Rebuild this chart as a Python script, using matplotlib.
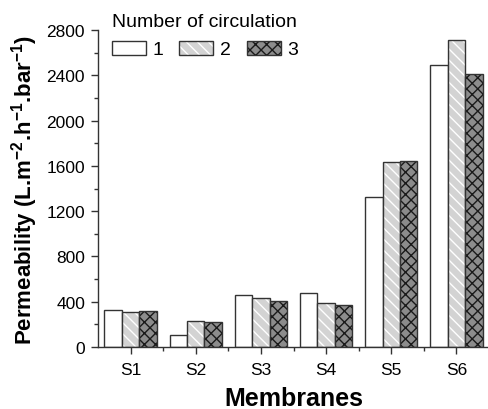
import numpy as np
import matplotlib
matplotlib.use('Agg')
import matplotlib.pyplot as plt
from matplotlib.patches import Patch
from matplotlib.legend_handler import HandlerTuple

plt.rcParams['font.family'] = ['Liberation Sans', 'DejaVu Sans']
plt.rcParams['mathtext.fontset'] = 'custom'
plt.rcParams['mathtext.bf'] = 'Liberation Sans:bold'
plt.rcParams['mathtext.rm'] = 'Liberation Sans'
plt.rcParams['hatch.linewidth'] = 1.0

membranes = ['S1', 'S2', 'S3', 'S4', 'S5', 'S6']
circ_labels = ['1', '2', '3']
circ1 = [327, 103, 459, 480, 1328, 2488]
circ2 = [306, 230, 433, 391, 1632, 2712]
circ3 = [315, 218, 406, 371, 1640, 2409]

series = [circ1, circ2, circ3]
faces = ['white', '#d3d3d3', '#8c8c8c']
hatches = [None, '\\\\\\', 'xxx']
hatch_cols = ['white', 'white', '#1a1a1a']
edge = '#333333'

fig = plt.figure(figsize=(4.89, 4.10), dpi=100)
ax = fig.add_axes([98/489, 1 - 348/410, 1 - 98/489, (348 - 31)/410])

x = np.arange(1, len(membranes) + 1)
w = 0.268
handles = []
for i, vals in enumerate(series):
    pos = x + (i - 1) * w
    # hatch layer first, outline on top
    ax.bar(pos, vals, w, color=faces[i], edgecolor=hatch_cols[i],
           hatch=hatches[i], linewidth=0)
    ax.bar(pos, vals, w, fill=False, edgecolor=edge, linewidth=1.0)
    h1 = Patch(facecolor=faces[i], edgecolor=hatch_cols[i], hatch=hatches[i], linewidth=0)
    h2 = Patch(fill=False, edgecolor=edge, linewidth=1.0)
    handles.append((h1, h2))

ax.set_xlim(0.5, 6.5)
ax.set_ylim(0, 2800)
ax.set_xticks(x)
ax.set_xticklabels(membranes)
ax.set_xticks(np.arange(1.5, 6.6, 1), minor=True)
ax.set_yticks(np.arange(0, 2801, 400))
ax.set_yticks(np.arange(0, 2801, 200), minor=True)
ax.tick_params(which='both', direction='out', labelsize=12.5, color='#333333')
ax.tick_params(axis='x', which='major', pad=5.5)
ax.tick_params(axis='y', which='major', pad=4.3)
ax.tick_params(which='major', length=5, width=1)
ax.tick_params(which='minor', length=3, width=1)
for s in ['top', 'right']:
    ax.spines[s].set_visible(False)
for s in ['left', 'bottom']:
    ax.spines[s].set_linewidth(1.0)
    ax.spines[s].set_color('#333333')

ax.set_xlabel('Membranes', fontsize=18, fontweight='bold', labelpad=7)
ax.set_ylabel('Permeability (L.m$^{\\mathbf{-2}}$.h$^{\\mathbf{-1}}$.bar$^{\\mathbf{-1}}$)',
              fontsize=16, fontweight='bold', labelpad=5)

leg = ax.legend(handles, circ_labels, title='Number of circulation', ncol=3,
                frameon=False, fontsize=14, title_fontsize=14,
                handler_map={tuple: HandlerTuple(ndivide=1, pad=0)},
                handlelength=1.75, handleheight=0.72, handletextpad=0.35,
                columnspacing=0.8, alignment='left', borderpad=0, borderaxespad=0,
                labelspacing=0.55,
                loc='upper left', bbox_to_anchor=(112/489, 1 - 14/410),
                bbox_transform=fig.transFigure)

fig.savefig('out.png', dpi=100)
